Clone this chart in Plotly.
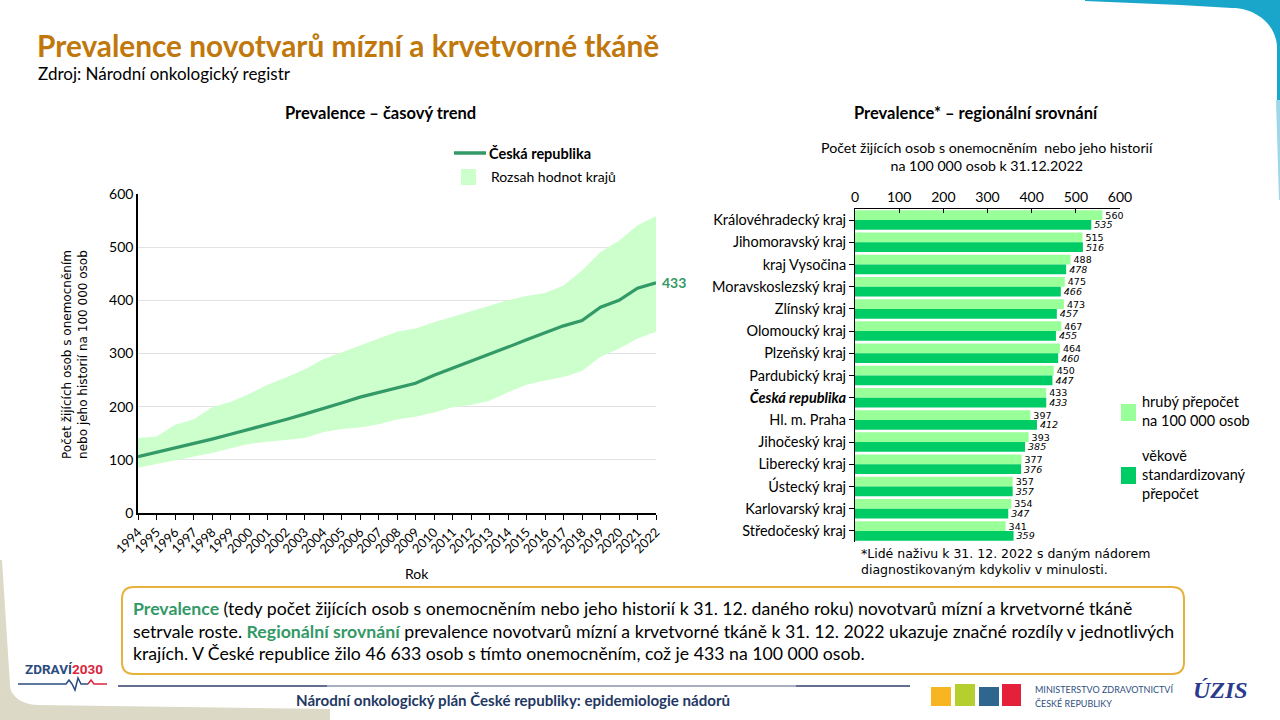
import math
import plotly.graph_objects as go

W, H = 1280, 720
def X(px): return px / W
def Y(py): return 1 - py / H

# ---------------- data ----------------
years = list(range(1994, 2023))
cr_values = [106, 114, 122, 130, 139, 148, 157, 166, 176, 186, 196, 207, 218, 227, 235,
             244, 259, 272, 285, 298, 312, 326, 339, 352, 362, 387, 400, 423, 433]
range_upper = [141, 144, 166, 176, 199, 209, 224, 241, 255, 270, 289, 302, 316, 328, 341,
               347, 359, 369, 379, 389, 400, 408, 414, 428, 456, 491, 512, 541, 558]
range_lower = [85, 92, 99, 107, 113, 122, 130, 134, 137, 141, 152, 158, 161, 167, 176,
               181, 189, 199, 203, 211, 227, 241, 249, 256, 267, 294, 309, 328, 341]

regions = ["Královéhradecký kraj", "Jihomoravský kraj", "kraj Vysočina", "Moravskoslezský kraj",
           "Zlínský kraj", "Olomoucký kraj", "Plzeňský kraj", "Pardubický kraj", "Česká republika",
           "Hl. m. Praha", "Jihočeský kraj", "Liberecký kraj", "Ústecký kraj", "Karlovarský kraj",
           "Středočeský kraj"]
crude_rate = [560, 515, 488, 475, 473, 467, 464, 450, 433, 397, 393, 377, 357, 354, 341]
std_rate = [535, 516, 478, 466, 457, 455, 460, 447, 433, 412, 385, 376, 357, 347, 359]
bar_ticks = [0, 100, 200, 300, 400, 500, 600]
line_ticks = [0, 100, 200, 300, 400, 500, 600]

# ---------------- colours / fonts ----------------
C_LINE = "#339966"
C_RANGE = "#CCFFCC"
C_LIGHT = "#99FF99"
C_DARK = "#00CC66"
C_TITLE = "#C0780C"
F = "Lato"
FV = "DejaVu Sans"

fig = go.Figure()

# ---- left chart: range + CR line ----
fig.add_trace(go.Scatter(x=years, y=range_lower, mode="lines", line=dict(width=0, color=C_RANGE),
                         showlegend=False, hoverinfo="skip", xaxis="x", yaxis="y"))
fig.add_trace(go.Scatter(x=years, y=range_upper, mode="lines", line=dict(width=0, color=C_RANGE),
                         fill="tonexty", fillcolor=C_RANGE, showlegend=False, xaxis="x", yaxis="y"))
fig.add_trace(go.Scatter(x=years, y=cr_values, mode="lines", line=dict(width=3.2, color=C_LINE),
                         showlegend=False, xaxis="x", yaxis="y"))

# ---- right chart: bars ----
cat_idx = list(range(len(regions)))
fig.add_trace(go.Bar(y=cat_idx, x=crude_rate, orientation="h", marker=dict(color=C_LIGHT, line=dict(width=0)),
                     text=[str(v) for v in crude_rate], textposition="outside", constraintext="none",
                     cliponaxis=False, textfont=dict(family=FV, size=9.5, color="#000000"),
                     showlegend=False, xaxis="x2", yaxis="y2"))
fig.add_trace(go.Bar(y=cat_idx, x=std_rate, orientation="h", marker=dict(color=C_DARK, line=dict(width=0)),
                     text=[f"<i>{v}</i>" for v in std_rate], textposition="outside", constraintext="none",
                     cliponaxis=False, textfont=dict(family=FV, size=9.5, color="#000000"),
                     showlegend=False, xaxis="x2", yaxis="y2"))

ticktext = [f"<b><i>{r}</i></b>" if r == "Česká republika" else r for r in regions]

fig.update_layout(
    width=W, height=H, margin=dict(l=0, r=0, t=0, b=0, pad=0, autoexpand=False),
    paper_bgcolor="white", plot_bgcolor="rgba(0,0,0,0)",
    barmode="group", bargap=0.12, bargroupgap=0,
    font=dict(family=F, color="#000000"),
    xaxis=dict(domain=[X(138), X(656)], range=[1994, 2022], tickmode="array", tickvals=years,
               ticktext=[str(y) for y in years], tickangle=-45, ticks="outside", ticklen=5,
               tickcolor="#000000", showline=True, linecolor="#000000", linewidth=1.5,
               showgrid=False, zeroline=False, tickfont=dict(family=F, size=12.8), fixedrange=True,
               automargin=False),
    yaxis=dict(domain=[Y(513), Y(194)], range=[0, 600], tickvals=line_ticks, ticks="",
               showline=True, linecolor="#000000", linewidth=1.5, showgrid=True,
               gridcolor="#E3E3E3", gridwidth=1, zeroline=False,
               tickfont=dict(family=F, size=14), fixedrange=True, automargin=False),
    xaxis2=dict(domain=[X(855), X(1120)], range=[0, 600], side="top", anchor="y2",
                tickvals=bar_ticks, ticks="inside", ticklen=4, tickcolor="#000000",
                showline=True, linecolor="#000000", linewidth=1, showgrid=False, zeroline=False,
                tickfont=dict(family=F, size=14), fixedrange=True, automargin=False),
    yaxis2=dict(domain=[Y(542), Y(209)], anchor="x2", tickmode="array", tickvals=cat_idx,
                ticktext=ticktext, range=[len(regions) - 0.5, -0.5], ticks="outside", ticklen=5,
                tickson="boundaries", tickcolor="#000000", showline=True, linecolor="#000000",
                linewidth=1, showgrid=False, zeroline=False, tickfont=dict(family=F, size=14.5),
                fixedrange=True, automargin=False),
)

ann = []
def txt(x, y, text, size=14, family=F, color="#000000", xanchor="left", yanchor="middle", **kw):
    ann.append(dict(x=X(x), y=Y(y), xref="paper", yref="paper", text=text, showarrow=False,
                    xanchor=xanchor, yanchor=yanchor, align=kw.pop("align", xanchor if xanchor != "center" else "center"),
                    font=dict(size=size, family=family, color=color), **kw))

# titles
txt(35, 45, "<b>Prevalence novotvarů mízní a krvetvorné tkáně</b>", size=29.8, color=C_TITLE)
txt(36, 74, "Zdroj: Národní onkologický registr", size=17)
txt(380, 113, "<b>Prevalence – časový trend</b>", size=16.5, xanchor="center")
txt(976, 113, "<b>Prevalence* – regionální srovnání</b>", size=16.5, xanchor="center")

# left legend
txt(487, 153, "<b>Česká republika</b>", size=14.5)
txt(489, 176, "Rozsah hodnot krajů", size=14)
# left y title
ann.append(dict(x=X(75), y=Y(355), xref="paper", yref="paper", showarrow=False, textangle=-90,
                text="Počet žijících osob s onemocněním<br>nebo jeho historií na 100 000 osob",
                font=dict(size=12, family=FV), xanchor="center", yanchor="middle", align="center"))
txt(417, 573, "Rok", size=14, xanchor="center")
# end label
ann.append(dict(x=years[-1], y=cr_values[-1], xref="x", yref="y", showarrow=False, xanchor="left",
                xshift=4, text=f"<b>{cr_values[-1]}</b>", font=dict(size=14, family=F, color=C_LINE)))

# right titles
txt(987, 156, "Počet žijících osob s onemocněním  nebo jeho historií<br>na 100 000 osob k 31.12.2022",
    size=14.2, xanchor="center", align="center")
txt(1140, 411, "hrubý přepočet<br>na 100 000 osob", size=14.5)
txt(1140, 474, "věkově<br>standardizovaný<br>přepočet", size=14.5)
txt(859, 561, "*Lidé naživu k 31. 12. 2022 s daným nádorem<br>diagnostikovaným kdykoliv v minulosti.",
    size=12.5, family=FV)

# text box
G = "#339966"
TB = 17.7
txt(131, 608, f"<b><span style='color:{G}'>Prevalence</span></b> (tedy počet žijících osob s onemocněním nebo jeho historií k 31. 12. daného roku) novotvarů mízní a krvetvorné tkáně", size=TB)
txt(131, 631, f"setrvale roste. <b><span style='color:{G}'>Regionální srovnání</span></b> prevalence novotvarů mízní a krvetvorné tkáně k 31. 12. 2022 ukazuje značné rozdíly v jednotlivých", size=TB)
txt(131, 653, "krajích. V České republice žilo 46 633 osob s tímto onemocněním, což je 433 na 100 000 osob.", size=TB)

# footer
txt(513, 700, "<b>Národní onkologický plán České republiky: epidemiologie nádorů</b>", size=15.1,
    color="#1F3864", xanchor="center")
txt(23, 669, "<b>ZDRAVÍ<span style='color:#D7263D'>2030</span></b>", size=13.5, family="Roboto",
    color="#2B4C7E")
txt(1033, 689, "MINISTERSTVO ZDRAVOTNICTVÍ", size=9, color="#2F4F7F")
txt(1033, 703, "ČESKÉ REPUBLIKY", size=9, color="#2F4F7F")
txt(1220, 690, "<b><i>ÚZIS</i></b>", size=24, family="Liberation Serif", color="#2B3A8C", xanchor="center")

fig.update_layout(annotations=ann)

# ---------------- shapes ----------------
shapes = []
def rect(x0, y0, x1, y1, color, line=None, layer="above"):
    shapes.append(dict(type="rect", xref="paper", yref="paper", x0=X(x0), x1=X(x1), y0=Y(y1), y1=Y(y0),
                       fillcolor=color, line=line or dict(width=0), layer=layer))

def path(points, color, layer="below", opacity=1):
    d = "M " + " L ".join(f"{X(a):.5f},{Y(b):.5f}" for a, b in points) + " Z"
    shapes.append(dict(type="path", xref="paper", yref="paper", path=d, fillcolor=color,
                       line=dict(width=0), layer=layer, opacity=opacity))

# top-right blue swoosh
pts = [(1085, 0), (1280, 0), (1280, 135), (1277, 135), (1277, 48)]
for i in range(0, 21):
    t = i / 20 * (math.pi / 2)
    pts.append((1277 - 45 + 45 * math.cos(t), 48 - 40 * math.sin(t)))
pts += [(1180, 5), (1085, 1)]
path(pts, "#1AA6CB")
path([(1276, 100), (1280, 100), (1280, 200), (1279, 200)], "#9FD6E8")

# bottom-left khaki corner
pts2 = [(0, 560), (2, 560), (10, 685)]
for i in range(0, 11):
    t = i / 10 * (math.pi / 2)
    pts2.append((10 + 28 - 28 * math.cos(t), 685 + 20 * math.sin(t)))
pts2 += [(330, 709), (330, 720), (0, 720)]
path(pts2, "#DCDAC6")

# text box
shapes.append(dict(type="path", xref="paper", yref="paper", layer="below",
                   path=(f"M {X(134)},{Y(587)} L {X(1172)},{Y(587)} Q {X(1184)},{Y(587)} {X(1184)},{Y(599)} "
                         f"L {X(1184)},{Y(662)} Q {X(1184)},{Y(674)} {X(1172)},{Y(674)} L {X(134)},{Y(674)} "
                         f"Q {X(122)},{Y(674)} {X(122)},{Y(662)} L {X(122)},{Y(599)} Q {X(122)},{Y(587)} {X(134)},{Y(587)} Z"),
                   fillcolor="white", line=dict(color="#E6B13C", width=2)))

# footer line
for x0, x1, col in [(118, 327, "#2F3E6B"), (327, 796, "#8A93A8"), (796, 910, "#2F3E6B")]:
    shapes.append(dict(type="line", xref="paper", yref="paper", x0=X(x0), x1=X(x1), y0=Y(686), y1=Y(686),
                       line=dict(color=col, width=1.5)))
# zdravi heartbeat line
shapes.append(dict(type="path", xref="paper", yref="paper",
                   path=(f"M {X(18)},{Y(684)} L {X(66)},{Y(684)} L {X(69)},{Y(680)} L {X(72)},{Y(684)} "
                         f"L {X(75)},{Y(690)} L {X(78)},{Y(678)} L {X(81)},{Y(684)} L {X(88)},{Y(684)}"),
                   line=dict(color="#2B4C7E", width=1.5)))
shapes.append(dict(type="path", xref="paper", yref="paper",
                   path=f"M {X(88)},{Y(684)} L {X(91)},{Y(680)} L {X(94)},{Y(684)} L {X(107)},{Y(684)}",
                   line=dict(color="#D7263D", width=1.5)))

# left legend sample line & square
shapes.append(dict(type="line", xref="paper", yref="paper", x0=X(454), x1=X(486), y0=Y(153), y1=Y(153),
                   line=dict(color=C_LINE, width=3.5)))
rect(461, 169, 476, 185, C_RANGE)
# right legend squares
rect(1121, 404, 1136, 421, C_LIGHT)
rect(1121, 467, 1136, 484, C_DARK)

# ministry icons
rect(931, 687, 951, 706, "#F7B521")
rect(955, 684, 975, 706, "#B5CF2E")
rect(979, 687, 999, 706, "#2E6690")
rect(1002, 684, 1021, 706, "#E5203A")

fig.update_layout(shapes=shapes)
fig.write_html("out.html", config={"displayModeBar": False},
               post_script="document.body.style.margin='0';document.body.style.overflow='hidden';")
